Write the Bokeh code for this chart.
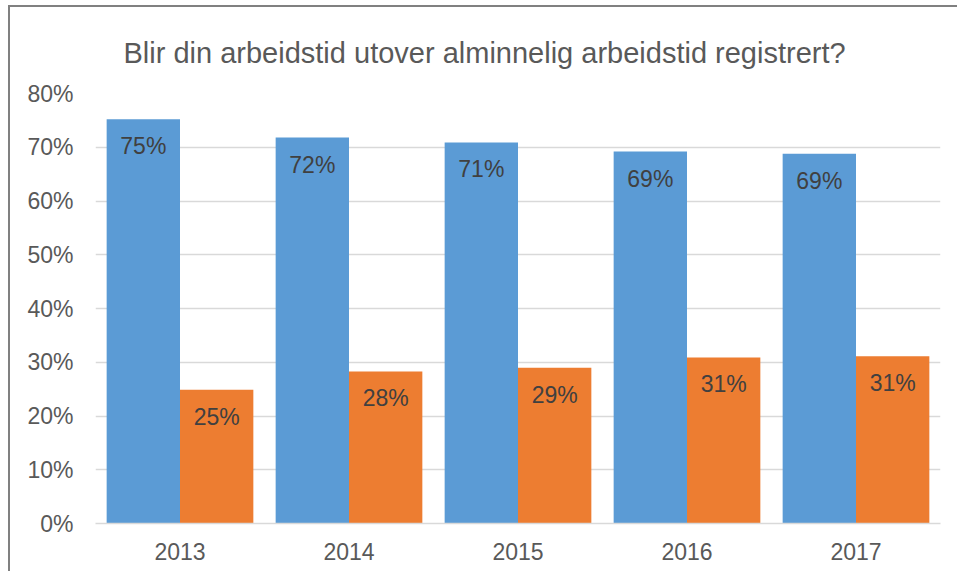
from bokeh.plotting import figure
from bokeh.models import Range1d, FixedTicker, PrintfTickFormatter, ColumnDataSource
from bokeh.transform import dodge
from bokeh.core.properties import value
from bokeh.embed import file_html
from bokeh.resources import INLINE

title_text = "Blir din arbeidstid utover alminnelig arbeidstid registrert?"
years = ["2013", "2014", "2015", "2016", "2017"]
ja = [75.2, 71.8, 70.9, 69.2, 68.8]
nei = [24.9, 28.3, 29.0, 30.9, 31.1]
y_ticks = [0, 10, 20, 30, 40, 50, 60, 70, 80]

BLUE = "#5b9bd5"
ORANGE = "#ed7d31"
FONT = "Liberation Sans"

src = ColumnDataSource(dict(
    year=years, ja=ja, nei=nei,
    ja_lbl=[f"{round(v)}%" for v in ja],
    nei_lbl=[f"{round(v)}%" for v in nei],
))

p = figure(x_range=years, y_range=Range1d(0, 80), width=949, height=566,
           output_backend="svg", toolbar_location=None,
           min_border_left=85, min_border_right=19, min_border_top=86, min_border_bottom=50)
p.styles = {"border-top": "2px solid #808080", "border-left": "2px solid #808080",
            "margin-left": "8px", "margin-top": "5px"}
p.outline_line_color = None
p.background_fill_color = "white"
p.border_fill_color = "white"

p.title.text = title_text
p.title.align = "left"
p.title.offset = 28
p.title.standoff = 45
p.title.vertical_align = "top"
p.title.text_font = FONT
p.title.text_font_size = "29px"
p.title.text_font_style = "normal"
p.title.text_color = "#595959"

w = 0.434
p.vbar(x=dodge("year", -w / 2, range=p.x_range), top="ja", width=w, source=src,
       fill_color=BLUE, line_color=None)
p.vbar(x=dodge("year", w / 2, range=p.x_range), top="nei", width=w, source=src,
       fill_color=ORANGE, line_color=None)

for col, off in (("ja_lbl", -w / 2), ("nei_lbl", w / 2)):
    p.text(x=dodge("year", off, range=p.x_range), y=col.split("_")[0], text=col, source=src,
           text_align="center", text_baseline="middle", y_offset=27,
           text_font=value(FONT), text_font_size="23px", text_color="#404040")

p.xgrid.grid_line_color = None
p.ygrid.grid_line_color = "#d9d9d9"
p.ygrid.grid_line_width = 1.5
p.ygrid.ticker = FixedTicker(ticks=y_ticks)

p.yaxis.ticker = FixedTicker(ticks=y_ticks)
p.yaxis.formatter = PrintfTickFormatter(format="%d%%")
p.yaxis.axis_line_color = None
p.yaxis.major_tick_line_color = None
p.yaxis.minor_tick_line_color = None
p.yaxis.major_label_standoff = 16
p.yaxis.major_label_text_font = FONT
p.yaxis.major_label_text_font_size = "23px"
p.yaxis.major_label_text_color = "#595959"

p.xaxis.axis_line_color = "#d9d9d9"
p.xaxis.axis_line_width = 1.5
p.xaxis.major_tick_line_color = None
p.xaxis.minor_tick_line_color = None
p.xaxis.major_label_standoff = 13
p.xaxis.major_label_text_font = FONT
p.xaxis.major_label_text_font_size = "23px"
p.xaxis.major_label_text_color = "#595959"

open("out.html", "w").write(file_html(p, INLINE))
